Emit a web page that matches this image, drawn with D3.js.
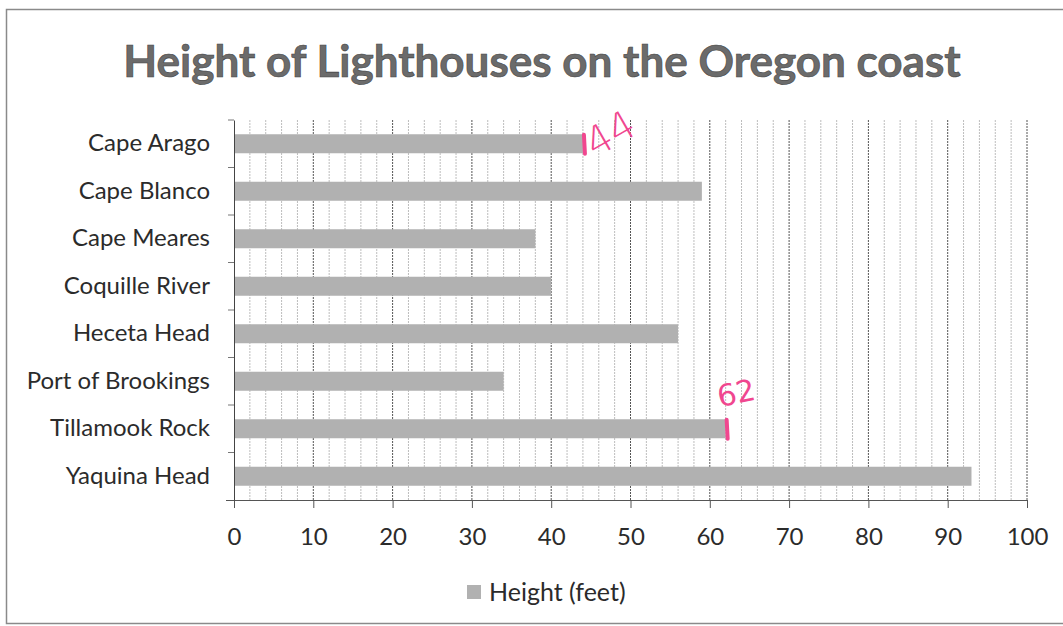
<!doctype html>
<html>
<head>
<script src="https://d3js.org/d3.v7.min.js"></script>
<style>
    body { margin: 0; background: #fff; }
    svg text { font-family: Lato, "Open Sans", sans-serif; fill: #2b2b2b; }
</style>
</head>
<body>
<script>
    // data
    let lighthouses = ["Cape Arago", "Cape Blanco", "Cape Meares", "Coquille River",
                       "Heceta Head", "Port of Brookings", "Tillamook Rock", "Yaquina Head"];
    let heights = [44, 59, 38, 40, 56, 34, 62, 93];
    let xTicks = [0, 10, 20, 30, 40, 50, 60, 70, 80, 90, 100];
    let notes = [{ name: "Cape Arago", text: "44" }, { name: "Tillamook Rock", text: "62" }];

    let width = 1063, height = 626;
    let margin = { top: 120, right: 36, bottom: 126, left: 234 };

    let svg = d3.select("body").append("svg")
        .attr("width", width)
        .attr("height", height);

    // outer chart frame (right edge falls off the scan)
    svg.append("rect")
        .attr("x", 6.5).attr("y", 9.5)
        .attr("width", 1100).attr("height", 614)
        .attr("fill", "none")
        .attr("stroke", "#8a8a8a")
        .attr("stroke-width", 1.5);

    let x = d3.scaleLinear()
        .domain([0, 100])
        .range([margin.left, width - margin.right]);

    let y = d3.scaleBand()
        .domain(lighthouses)
        .range([margin.top, height - margin.bottom])
        .paddingInner(0.6)
        .paddingOuter(0.3);

    // minor gridlines every 2
    svg.append("g").selectAll("line")
        .data(d3.range(2, 101, 2).filter(d => d % 10 != 0))
        .enter().append("line")
        .attr("x1", d => x(d)).attr("x2", d => x(d))
        .attr("y1", margin.top).attr("y2", height - margin.bottom)
        .attr("stroke", "#bdbdbd")
        .attr("stroke-dasharray", "2,1");

    // major gridlines
    svg.append("g").selectAll("line")
        .data(xTicks.slice(1))
        .enter().append("line")
        .attr("x1", d => x(d)).attr("x2", d => x(d))
        .attr("y1", margin.top).attr("y2", height - margin.bottom)
        .attr("stroke", "#555")
        .attr("stroke-dasharray", "2,1");

    // bars
    svg.append("g").selectAll("rect")
        .data(heights)
        .enter().append("rect")
        .attr("x", x(0))
        .attr("y", (d, i) => y(lighthouses[i]))
        .attr("width", d => x(d) - x(0))
        .attr("height", y.bandwidth())
        .attr("fill", "#b1b1b1");

    // x axis
    let xAxis = svg.append("g")
        .attr("transform", "translate(0," + (height - margin.bottom) + ")")
        .call(d3.axisBottom(x).tickValues(xTicks).tickSize(8).tickPadding(20));
    xAxis.select(".domain").attr("stroke", "#555").attr("d", "M" + (margin.left - 8) + ",0.5H" + x(100));
    xAxis.selectAll(".tick line").attr("stroke", "#555");
    xAxis.selectAll("text").style("font-size", "24px").attr("fill", "#2b2b2b");

    // y axis: ticks on band boundaries
    let yAxis = svg.append("g")
        .attr("transform", "translate(" + margin.left + ",0)")
        .call(d3.axisLeft(y).tickSize(0).tickPadding(24));
    yAxis.select(".domain").attr("stroke", "#444");
    yAxis.selectAll("text").style("font-size", "24px").attr("fill", "#2b2b2b");
    yAxis.append("g").selectAll("line")
        .data(lighthouses)
        .enter().append("line")
        .attr("x1", -6).attr("x2", 0)
        .attr("y1", d => y(d) - y.step() * y.paddingInner() / 2)
        .attr("y2", d => y(d) - y.step() * y.paddingInner() / 2)
        .attr("stroke", "#777");

    // title
    svg.append("text")
        .attr("x", 542).attr("y", 77)
        .attr("text-anchor", "middle")
        .style("font-size", "44px")
        .style("font-weight", "bold")
        .style("fill", "#6b6b6b")
        .style("stroke", "#444")
        .style("stroke-width", 0.6)
        .text("Height of Lighthouses on the Oregon coast");

    // legend
    let legend = svg.append("g").attr("transform", "translate(467,592)");
    legend.append("rect")
        .attr("x", 0).attr("y", -7)
        .attr("width", 14).attr("height", 14)
        .attr("fill", "#b1b1b1");
    legend.append("text")
        .attr("x", 22).attr("y", 9)
        .style("font-size", "25px")
        .text("Height (feet)");

    // handwritten notes in pink
    let pink = "#f0478f";
    let noteG = svg.append("g");
    notes.forEach(n => {
        let v = heights[lighthouses.indexOf(n.name)];
        let cy = y(n.name) + y.bandwidth() / 2;
        noteG.append("line")
            .attr("x1", x(v) + 1).attr("x2", x(v) + 2)
            .attr("y1", cy - 9).attr("y2", cy + 10)
            .attr("stroke", pink)
            .attr("stroke-width", 4)
            .attr("stroke-linecap", "round");
    });
    let arago = notes[0], tilla = notes[1];
    noteG.append("text")
        .attr("transform", "translate(" + (x(44) + 12) + "," + (y("Cape Arago") + 24) + ") rotate(-30)")
        .style("font-size", "40px")
        .style("font-family", "'DejaVu Sans'")
        .style("font-weight", "300")
        .style("fill", pink)
        .text(arago.text);
    noteG.append("text")
        .attr("transform", "translate(" + (x(62) - 6) + "," + (y("Tillamook Rock") - 12) + ") rotate(-12)")
        .style("font-size", "30px")
        .style("font-family", "'DejaVu Sans'")
        .style("fill", pink)
        .text(tilla.text);
</script>
</body>
</html>
